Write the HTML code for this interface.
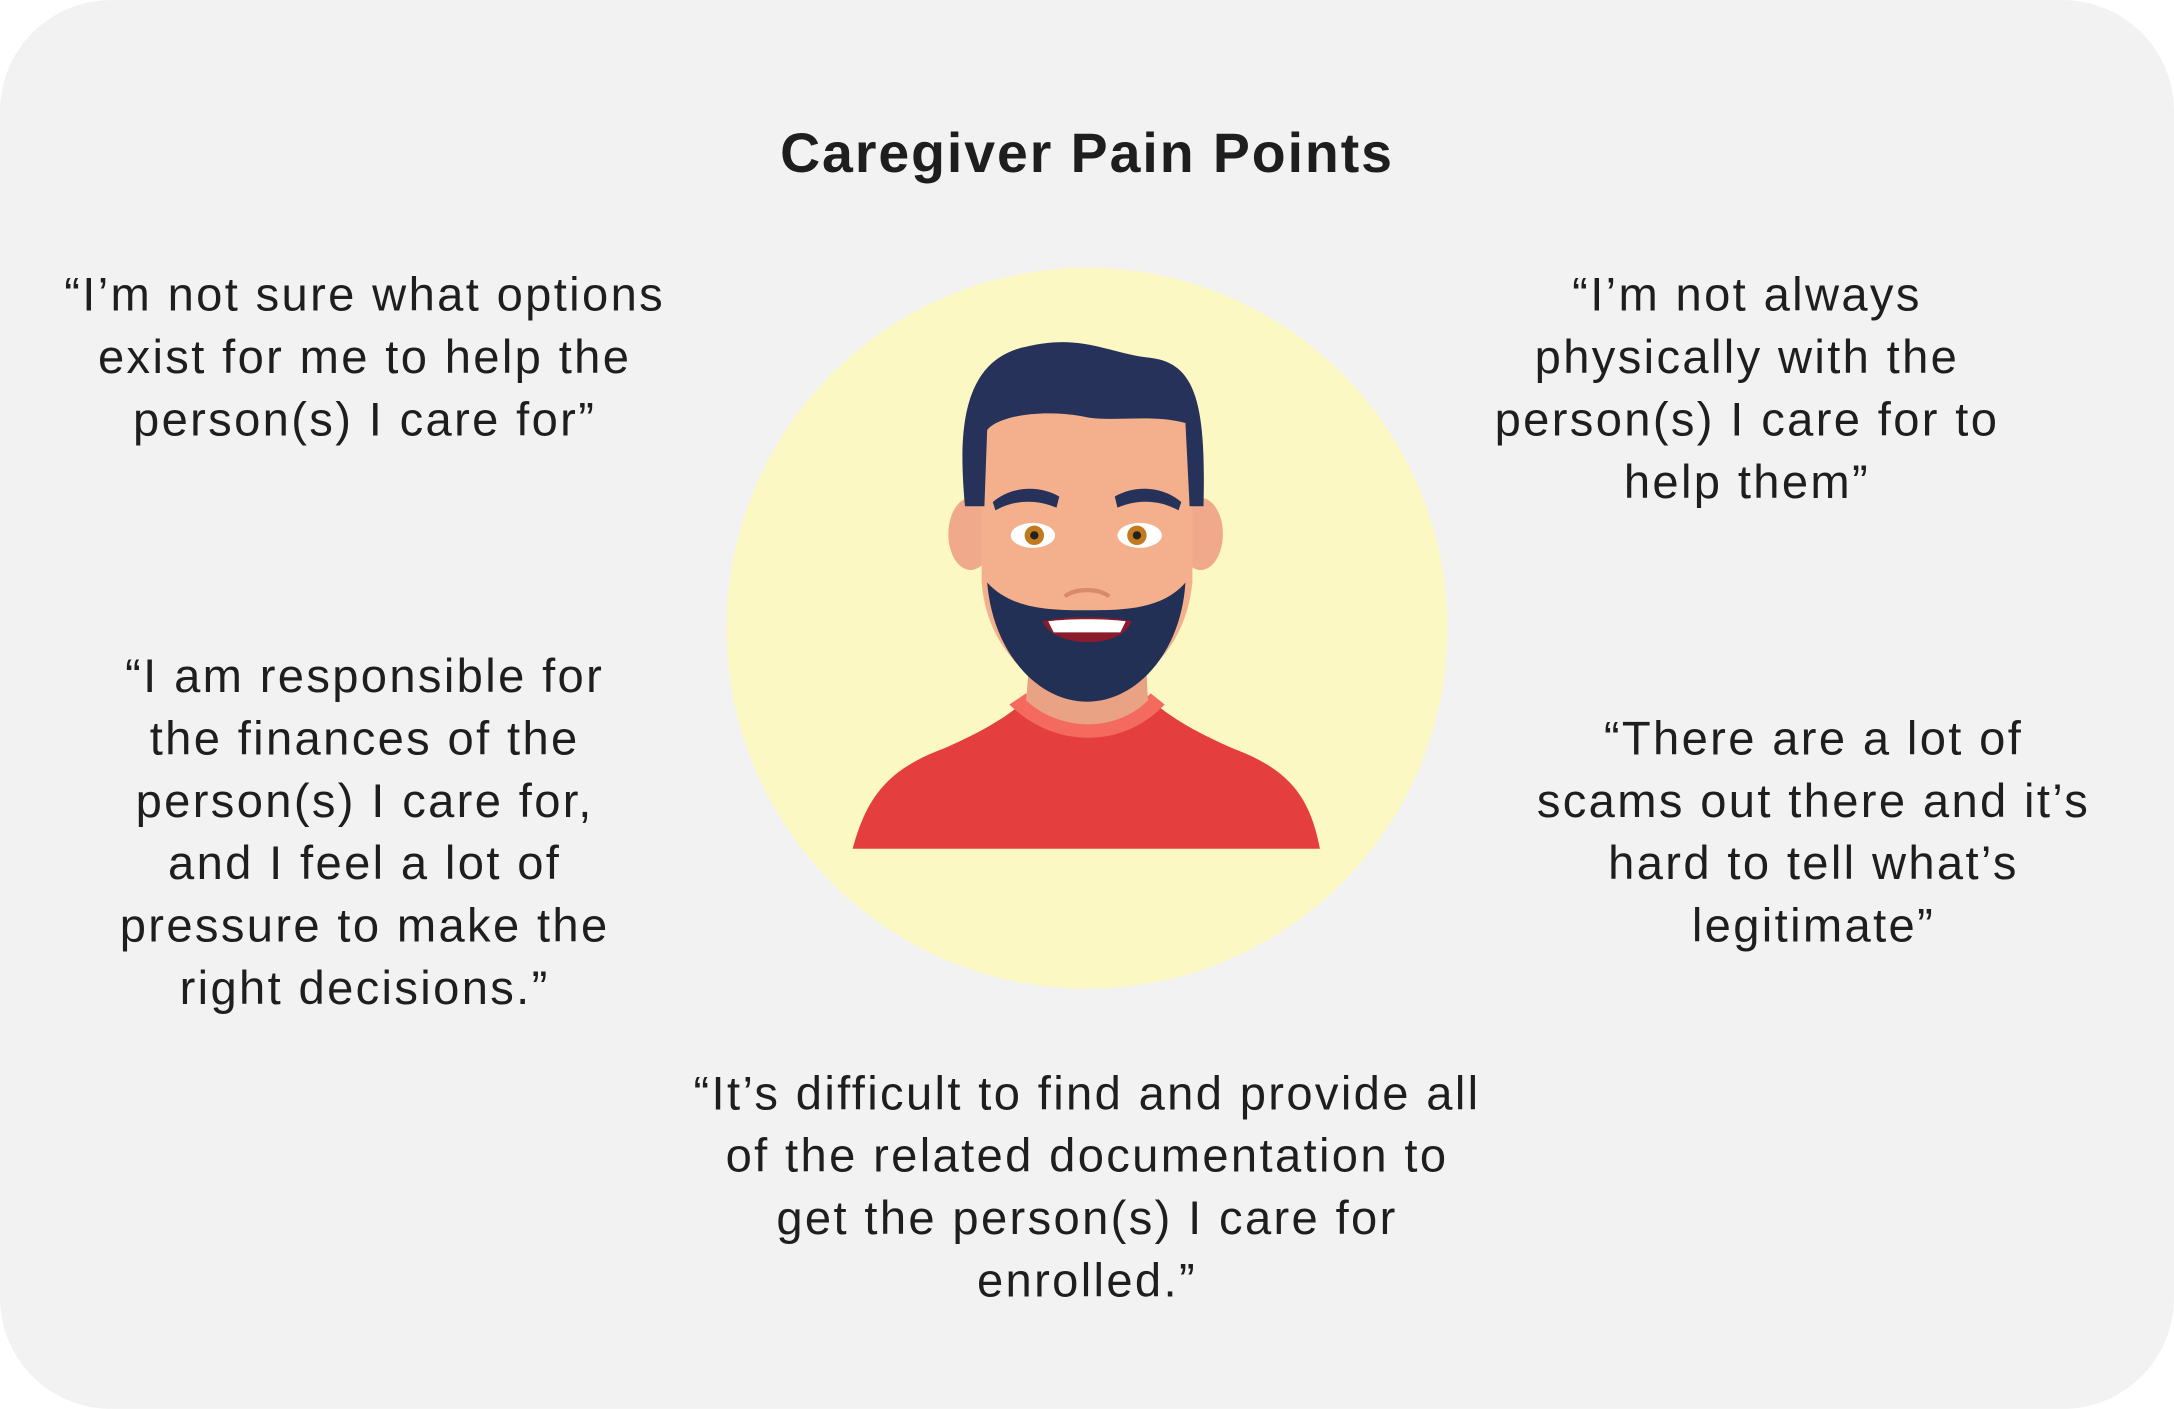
<!DOCTYPE html>
<html><head><meta charset="utf-8"><style>
html,body{margin:0;padding:0;background:#fff;}
svg{display:block;}
text{font-family:"Liberation Sans",sans-serif;fill:#1e1e1e;}
</style></head><body>
<svg width="2174" height="1409" viewBox="0 0 1568 1016">
<rect x="0" y="0" width="1568" height="1016" rx="80" fill="#f2f2f2"/>
<text x="784" y="124" text-anchor="middle" font-size="40" font-weight="bold" letter-spacing="1.4" fill="#111">Caregiver Pain Points</text>
<circle cx="784" cy="453" r="260" fill="#fcf8c4"/>
<g>
<path d="M615,612 C625,575 640,555 680,540 C710,527 730,515 745,500 L825,500 C840,515 860,527 890,540 C930,555 945,575 952,612 Z" fill="#e53e3e"/>
<path d="M728,508 C760,540 810,540 840,508 L830,500 C805,525 765,525 740,500 Z" fill="#f46a5e"/>
<path d="M745,450 L825,450 L828,505 C805,528 765,528 740,505 Z" fill="#e9a283"/>
<ellipse cx="700" cy="385" rx="16" ry="26" fill="#f0a98a"/>
<ellipse cx="866" cy="385" rx="16" ry="26" fill="#f0a98a"/>
<path d="M708,300 C708,280 740,275 784,275 C830,275 860,280 860,300 L860,420 C855,470 820,500 784,500 C748,500 712,470 708,420 Z" fill="#f4b08c"/>
<path d="M712,420 C730,440 760,440 784,440 C808,440 838,440 855,420 C852,470 820,506 784,506 C748,506 716,470 712,420 Z" fill="#233055"/>
<path d="M752,448 C770,444 798,444 816,448 C810,468 760,468 752,448 Z" fill="#8b1a2a"/>
<path d="M756,448 C770,446 798,446 812,448 L808,456 L760,456 Z" fill="#fff"/>
<path d="M696,365 C692,320 690,260 740,250 C780,240 800,255 830,258 C862,262 870,290 868,365 L858,365 L855,305 C830,298 800,305 780,300 C750,295 720,300 712,310 L710,365 Z" fill="#26325a"/>
<path d="M716,362 C730,350 750,350 764,358 L762,366 C748,360 732,360 718,368 Z" fill="#26325a"/>
<path d="M804,358 C818,350 838,350 852,362 L850,368 C836,360 820,360 806,366 Z" fill="#26325a"/>
<ellipse cx="745" cy="386" rx="16" ry="9" fill="#fff"/>
<ellipse cx="822" cy="386" rx="16" ry="9" fill="#fff"/>
<circle cx="746" cy="386" r="7" fill="#c27a1f"/><circle cx="746" cy="386" r="3" fill="#222"/>
<circle cx="820" cy="386" r="7" fill="#c27a1f"/><circle cx="820" cy="386" r="3" fill="#222"/>
<path d="M768,430 C776,424 792,424 800,430" stroke="#d88a6c" stroke-width="3" fill="none"/>
</g>
<g font-size="34" text-anchor="middle" letter-spacing="1.7">
<text x="263" y="224"><tspan x="263">“I’m not sure what options</tspan><tspan x="263" dy="45">exist for me to help the</tspan><tspan x="263" dy="45">person(s) I care for”</tspan></text>
<text x="1260" y="224"><tspan x="1260">“I’m not always</tspan><tspan x="1260" dy="45">physically with the</tspan><tspan x="1260" dy="45">person(s) I care for to</tspan><tspan x="1260" dy="45">help them”</tspan></text>
<text x="263" y="499"><tspan x="263">“I am responsible for</tspan><tspan x="263" dy="45">the finances of the</tspan><tspan x="263" dy="45">person(s) I care for,</tspan><tspan x="263" dy="45">and I feel a lot of</tspan><tspan x="263" dy="45">pressure to make the</tspan><tspan x="263" dy="45">right decisions.”</tspan></text>
<text x="1308" y="544"><tspan x="1308">“There are a lot of</tspan><tspan x="1308" dy="45">scams out there and it’s</tspan><tspan x="1308" dy="45">hard to tell what’s</tspan><tspan x="1308" dy="45">legitimate”</tspan></text>
<text x="784" y="800"><tspan x="784">“It’s difficult to find and provide all</tspan><tspan x="784" dy="45">of the related documentation to</tspan><tspan x="784" dy="45">get the person(s) I care for</tspan><tspan x="784" dy="45">enrolled.”</tspan></text>
</g>
</svg>
</body></html>
